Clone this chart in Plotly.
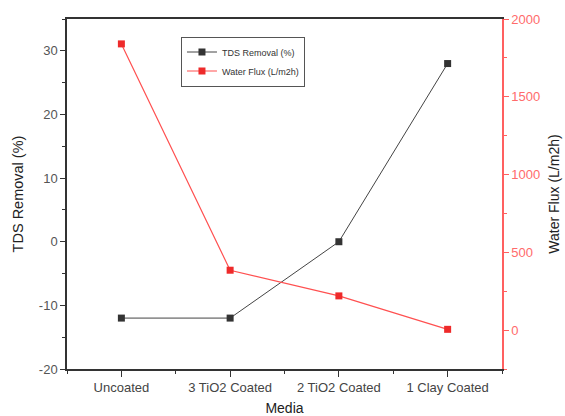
import plotly.graph_objects as go

categories = ["Uncoated", "3 TiO2 Coated", "2 TiO2 Coated", "1 Clay Coated"]
tds_removal = [-12, -12, 0, 28]
water_flux = [1840, 385, 220, 5]
tds_ticks = [-20, -10, 0, 10, 20, 30]
flux_ticks = [0, 500, 1000, 1500, 2000]

xpos = list(range(len(categories)))

fig = go.Figure()
fig.add_trace(go.Scatter(
    x=xpos, y=tds_removal, name="TDS Removal (%)", mode="lines+markers",
    line=dict(color="#444444", width=1),
    marker=dict(symbol="square", size=7, color="#333333"),
))
fig.add_trace(go.Scatter(
    x=xpos, y=water_flux, name="Water Flux (L/m2h)", mode="lines+markers",
    line=dict(color="#ff5050", width=1.2),
    marker=dict(symbol="square", size=7, color="#ee2a2a"),
    yaxis="y2",
))

font = "Liberation Sans, Arial, sans-serif"
fig.update_layout(
    width=565, height=416,
    margin=dict(l=67, r=63, t=19, b=47),
    plot_bgcolor="white", paper_bgcolor="white",
    font=dict(family=font, size=12, color="#222222"),
    showlegend=True,
    legend=dict(x=0.262, y=0.95, xanchor="left", yanchor="top",
                bordercolor="#555555", borderwidth=1, bgcolor="white",
                font=dict(size=9, color="#333333"), tracegroupgap=0,
                itemwidth=30),
    xaxis=dict(
        range=[-0.5, 3.5], tickvals=xpos, ticktext=categories,
        showline=True, linecolor="#333333", linewidth=1.5, mirror=True,
        ticks="outside", ticklen=6, tickcolor="#333333",
        minor=dict(tickvals=[-0.5, 0.5, 1.5, 2.5, 3.5], ticks="outside", ticklen=3, tickcolor="#333333"),
        showgrid=False, zeroline=False, automargin=False,
        tickfont=dict(size=13, color="#444444"),
        title=dict(text="Media", font=dict(size=14, color="#222222"), standoff=14),
    ),
    yaxis=dict(
        range=[-20, 35], tickvals=tds_ticks, ticktext=[str(v) for v in tds_ticks],
        showline=True, linecolor="#333333", linewidth=1.5,
        ticks="outside", ticklen=5, tickcolor="#333333",
        minor=dict(dtick=5, ticks="outside", ticklen=3, tickcolor="#333333"),
        showgrid=False, zeroline=False, automargin=False,
        tickfont=dict(size=13, color="#555555"),
        title=dict(text="TDS Removal (%)", font=dict(size=14.5, color="#222222"), standoff=12),
    ),
    yaxis2=dict(
        overlaying="y", side="right",
        range=[-250, 2000], tickvals=flux_ticks, ticktext=[str(v) for v in flux_ticks],
        showline=True, linecolor="#ff6060", linewidth=1.5,
        ticks="outside", ticklen=5, tickcolor="#ff6060",
        minor=dict(dtick=250, ticks="outside", ticklen=3, tickcolor="#ff6060"),
        showgrid=False, zeroline=False, automargin=False,
        tickfont=dict(size=13, color="#ff6b6b"),
        title=dict(text="Water Flux (L/m2h)", font=dict(size=14, color="#222222"), standoff=10),
    ),
)

fig.write_html("out.html")
